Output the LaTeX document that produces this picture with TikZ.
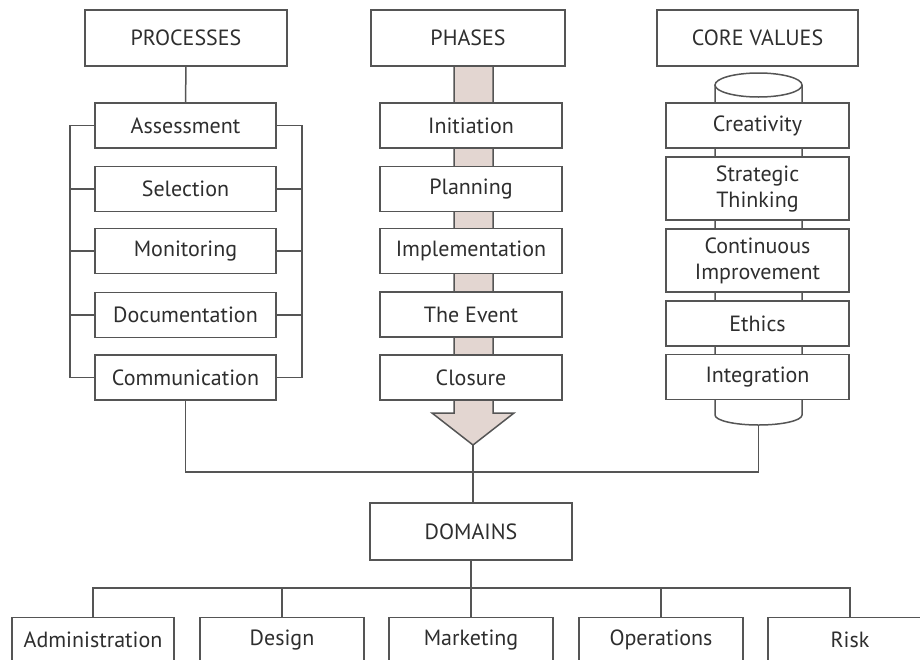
\documentclass[tikz,border=0pt]{standalone}
\usepackage{fontspec}
\setmainfont{PT Sans}
\definecolor{ln}{HTML}{555555}
\definecolor{tx}{HTML}{2E2E2E}
\definecolor{shaft}{HTML}{E3D6D1}
\begin{document}
\begin{tikzpicture}[x=1pt,y=-1pt,
  box/.style={draw=ln,line width=1.5pt,fill=white,inner sep=0pt,text=tx,
    font=\fontsize{22}{26}\selectfont,align=center,minimum height=45pt},
  head/.style={box,minimum height=56pt,font=\fontsize{22}{26}\selectfont},
  conn/.style={draw=ln,line width=1.5pt}]
\useasboundingbox (0,0) rectangle (920,659);
\clip (0,0) rectangle (920,659);

% phases arrow (behind boxes)
\filldraw[fill=shaft,draw=ln,line width=1.5pt]
  (454,66) -- (454,413) -- (432,413) -- (473,445) -- (514,413) -- (493,413) -- (493,66);
\coordinate (tip) at (473,445);

% cylinder (behind boxes)
\filldraw[fill=white,draw=ln,line width=1.5pt]
  (715,85) -- (715,415) arc[start angle=180,end angle=360,x radius=43.5,y radius=-10] -- (802,85);
\filldraw[fill=white,draw=ln,line width=1.5pt] (758.5,85) ellipse[x radius=43.5,y radius=12];
\coordinate (cylb) at (758.5,425);

% headers
\node[head,minimum width=202pt] (proc) at (186,38) {PROCESSES};
\node[head,minimum width=194pt] (phas) at (468,38) {PHASES};
\node[head,minimum width=201pt] (core) at (757.5,38) {CORE VALUES};

% processes
\node[box,minimum width=181pt] (assess) at (185.5,125.5) {Assessment};
\node[box,minimum width=181pt] (sel) at (185.5,189) {Selection};
\node[box,minimum width=181pt] (mon) at (185.5,251) {Monitoring};
\node[box,minimum width=181pt] (doc) at (185.5,315) {Documentation};
\node[box,minimum width=181pt] (comm) at (185.5,377.5) {Communication};

% phases
\node[box,minimum width=182pt] (init) at (471,125.5) {Initiation};
\node[box,minimum width=182pt] (plan) at (471,189) {Planning};
\node[box,minimum width=182pt] (impl) at (471,251) {Implementation};
\node[box,minimum width=182pt] (evt) at (471,314.5) {The Event};
\node[box,minimum width=182pt] (clos) at (471,377.5) {Closure};

% core values
\node[box,minimum width=183pt] (crea) at (757.5,125.5) {Creativity};
\node[box,minimum width=183pt,minimum height=63pt] (strat) at (757.5,188.5) {Strategic\\Thinking};
\node[box,minimum width=183pt,minimum height=63pt] (cont) at (757.5,260.5) {Continuous\\Improvement};
\node[box,minimum width=183pt] (eth) at (757.5,323.5) {Ethics};
\node[box,minimum width=183pt] (integ) at (757.5,377) {Integration};

% domains
\node[head,minimum width=202pt,minimum height=57pt] (dom) at (471,531.5) {DOMAINS};
\node[box,minimum width=162pt] (adm) at (93,640) {Administration};
\node[box,minimum width=164pt] (des) at (282,640) {Design};
\node[box,minimum width=164pt] (mkt) at (471,640) {Marketing};
\node[box,minimum width=164pt] (ops) at (661,640) {Operations};
\node[box,minimum width=164pt] (risk) at (850,640) {Risk};

% connectors: processes
\coordinate (bl) at (70,0);
\coordinate (br) at (302,0);
\draw[conn] (proc.south) -- (assess.north);
\draw[conn] (assess.west) -| (bl |- comm.west) -- (comm.west);
\draw[conn] (assess.east) -| (br |- comm.east) -- (comm.east);
\foreach \n in {sel,mon,doc}{
  \draw[conn] (\n.west) -- (bl |- \n.west);
  \draw[conn] (\n.east) -- (br |- \n.east);
}

% join to domains
\coordinate (join) at (473,472);
\draw[conn] (comm.south) |- (join);
\draw[conn] (cylb) |- (join);
\draw[conn] (tip) -- (tip |- dom.north);

% domains tree
\coordinate (bus) at (471,588);
\draw[conn] (dom.south) -- (bus);
\draw[conn] (adm.north) |- (bus) -| (risk.north);
\draw[conn] (des.north) -- (des.north |- bus);
\draw[conn] (mkt.north) -- (mkt.north |- bus);
\draw[conn] (ops.north) -- (ops.north |- bus);
\end{tikzpicture}
\end{document}
